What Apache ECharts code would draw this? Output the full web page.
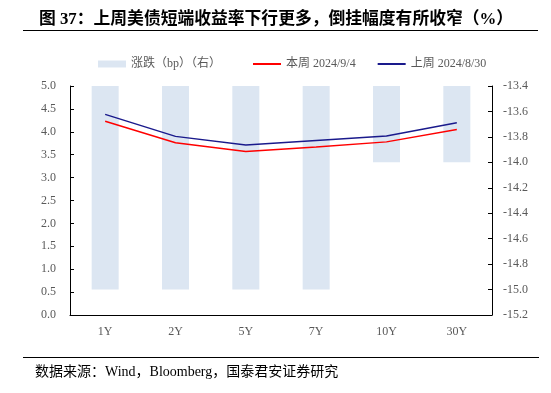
<!DOCTYPE html>
<html><head><meta charset="utf-8">
<script src="https://cdn.jsdelivr.net/npm/echarts@6/dist/echarts.min.js"></script>
<style>html,body{margin:0;padding:0;background:#fff}#c{width:551px;height:393px}</style>
</head><body><div id="c"></div>
<script>
const categories = ['1Y','2Y','5Y','7Y','10Y','30Y'];
const changeBp = [-15, -15, -15, -15, -14, -14];
const thisWeek = [4.23, 3.76, 3.57, 3.67, 3.78, 4.05];
const lastWeek = [4.38, 3.90, 3.71, 3.81, 3.91, 4.20];
const leftTicks = {min: 0, max: 5, interval: 0.5};
const rightTicks = {min: -15.2, max: -13.4, interval: 0.2};

const serif = "'Liberation Serif','Noto Sans CJK SC'";
const legendText = {fontSize: 12, color: '#595959', fontFamily: serif};
const chart = echarts.init(document.getElementById('c'), null, {renderer: 'canvas'});
chart.setOption({
  animation: false,
  backgroundColor: '#fff',
  title: {
    text: '图 37：上周美债短端收益率下行更多，倒挂幅度有所收窄（%）',
    left: 34, top: 6,
    textStyle: {fontSize: 16.8, fontWeight: 'bold', color: '#000', fontFamily: serif}
  },
  graphic: [
    {type: 'line', shape: {x1: 23, y1: 30.5, x2: 538, y2: 30.5}, style: {stroke: '#000', lineWidth: 1.2}},
    {type: 'line', shape: {x1: 23, y1: 357.5, x2: 539, y2: 357.5}, style: {stroke: '#000', lineWidth: 1.2}},
    {type: 'text', left: 35, top: 365, style: {text: '数据来源：Wind，Bloomberg，国泰君安证券研究', fontSize: 14, fill: '#000', fontFamily: serif}}
  ],
  legend: [
    {top: 53, left: 93, itemWidth: 28, itemHeight: 7, textStyle: legendText,
     data: [{name: '涨跌（bp）（右）', icon: 'rect'}]},
    {top: 53, left: 248, itemWidth: 28, itemHeight: 2, itemGap: 22, textStyle: legendText,
     data: [{name: '本周 2024/9/4', icon: 'rect'}, {name: '上周 2024/8/30', icon: 'rect'}]}
  ],
  grid: {left: 70, right: 59, top: 86, bottom: 78},
  xAxis: {
    type: 'category', data: categories,
    axisLine: {lineStyle: {color: '#000', width: 1}},
    axisTick: {show: false},
    axisLabel: {color: '#595959', fontSize: 12, fontFamily: serif, margin: 11}
  },
  yAxis: [
    {
      type: 'value', min: leftTicks.min, max: leftTicks.max, interval: leftTicks.interval,
      axisLine: {show: true, lineStyle: {color: '#000', width: 1}},
      axisTick: {show: true, inside: true, length: 4, lineStyle: {color: '#000'}},
      splitLine: {show: false},
      axisLabel: {color: '#595959', fontSize: 12, fontFamily: serif, margin: 14, formatter: v => v.toFixed(1)}
    },
    {
      type: 'value', position: 'right', min: rightTicks.min, max: rightTicks.max, interval: rightTicks.interval,
      axisLine: {show: true, lineStyle: {color: '#000', width: 1}},
      axisTick: {show: true, inside: true, length: 4, lineStyle: {color: '#000'}},
      splitLine: {show: false},
      axisLabel: {color: '#595959', fontSize: 12, fontFamily: serif, margin: 11, formatter: v => v.toFixed(1)}
    }
  ],
  series: [
    {name: '涨跌（bp）（右）', type: 'bar', yAxisIndex: 1, data: changeBp, barWidth: 27, clip: true,
     itemStyle: {color: '#dce6f2'}, z: 1},
    {name: '本周 2024/9/4', type: 'line', data: thisWeek, symbol: 'none',
     lineStyle: {color: '#ff0000', width: 1.5}, itemStyle: {color: '#ff0000'}, z: 3},
    {name: '上周 2024/8/30', type: 'line', data: lastWeek, symbol: 'none',
     lineStyle: {color: '#1a1a8c', width: 1.5}, itemStyle: {color: '#1a1a8c'}, z: 3}
  ]
});
</script></body></html>
